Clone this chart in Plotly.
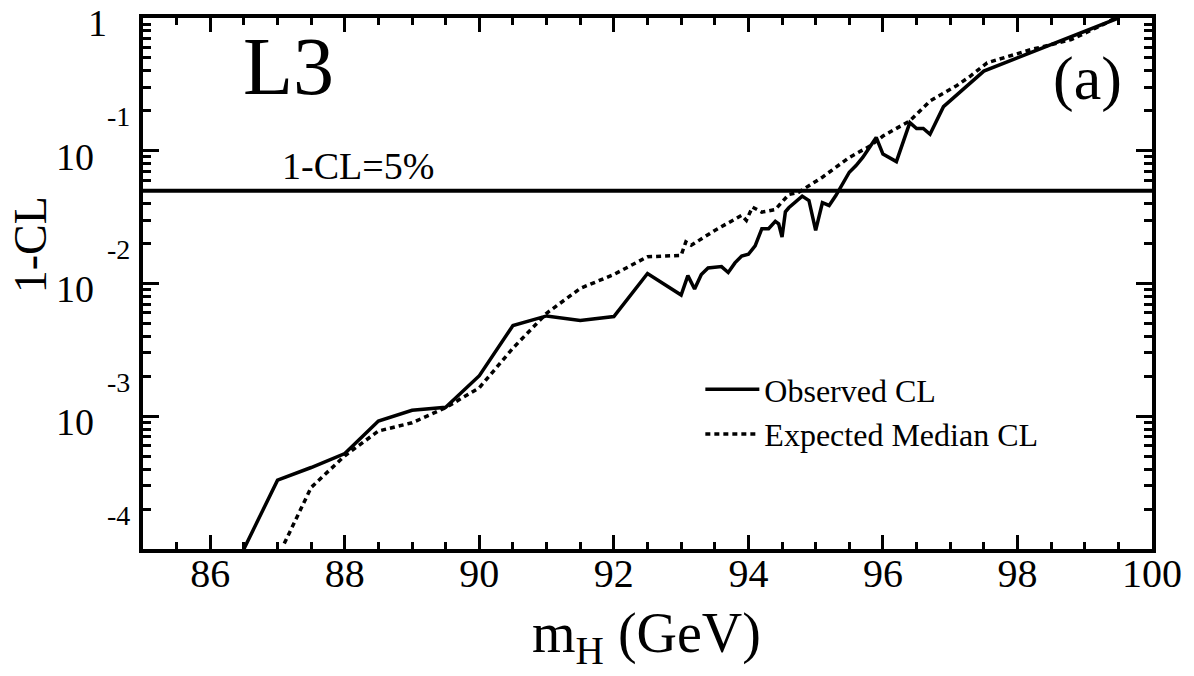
import math
import plotly.graph_objects as go

# ---------------- data ----------------
obs_mass = [86.5, 87.0, 87.5, 88.0, 88.5, 89.0, 89.5, 90.0, 90.5, 91.0, 91.5, 92.0,
            92.5, 93.0, 93.1, 93.2, 93.3, 93.4, 93.6, 93.7, 93.8, 93.9, 94.0, 94.1,
            94.2, 94.3, 94.4, 94.45, 94.5, 94.55, 94.6, 94.8, 94.9, 95.0, 95.1, 95.2,
            95.3, 95.5, 95.6, 95.7, 95.9, 96.0, 96.2, 96.4, 96.5, 96.6, 96.7, 96.9,
            97.5, 98.0, 99.0, 99.5]
obs_cl = [1.0e-4, 3.30e-4, 4.11e-4, 5.24e-4, 9.2e-4, 1.11e-3, 1.17e-3, 2.02e-3, 4.83e-3,
          5.70e-3, 5.26e-3, 5.64e-3, 1.19e-2, 8.18e-3, 1.146e-2, 9.08e-3, 1.17e-2, 1.31e-2,
          1.34e-2, 1.21e-2, 1.43e-2, 1.61e-2, 1.66e-2, 1.92e-2, 2.59e-2, 2.59e-2, 2.94e-2,
          2.82e-2, 2.24e-2, 3.47e-2, 3.72e-2, 4.55e-2, 4.22e-2, 2.51e-2, 4.06e-2, 3.87e-2,
          4.60e-2, 6.89e-2, 7.73e-2, 8.91e-2, 0.126, 0.0944, 0.0828, 0.163, 0.147, 0.147,
          0.133, 0.215, 0.398, 0.50, 0.79, 1.0]

exp_mass = [87.1, 87.5, 88.0, 88.5, 89.0, 89.5, 90.0, 90.5, 91.0, 91.5, 92.0, 92.5,
            93.0, 93.07, 93.15, 93.5, 93.9, 93.97, 94.06, 94.2, 94.4, 94.6, 94.75,
            95.1, 95.5, 95.8, 96.0, 96.4, 96.7, 97.1, 97.3, 97.55, 98.2, 98.8, 99.3, 99.45]
exp_cl = [1.1e-4, 2.91e-4, 5.04e-4, 7.74e-4, 8.93e-4, 1.16e-3, 1.64e-3, 3.26e-3, 5.97e-3,
          9.18e-3, 1.17e-2, 1.59e-2, 1.63e-2, 2.06e-2, 1.94e-2, 2.51e-2, 3.26e-2, 2.99e-2,
          3.76e-2, 3.45e-2, 3.61e-2, 4.68e-2, 4.88e-2, 6.32e-2, 8.9e-2, 0.108, 0.129,
          0.168, 0.237, 0.31, 0.365, 0.46, 0.578, 0.687, 0.906, 1.0]

limit_mass = [85, 100]
limit_cl = [0.05, 0.05]

x_tick_vals = [86, 88, 90, 92, 94, 96, 98, 100]
x_tick_text = ["86", "88", "90", "92", "94", "96", "98", "100"]
y_tick_vals = [1, 0.1, 0.01, 0.001, 0.0001]
y_tick_base = ["1", "10", "10", "10", "10"]
y_tick_exp = ["", "-1", "-2", "-3", "-4"]

# ---------------- layout geometry ----------------
W, H = 1194, 676
L, R, T, B = 143, 1155, 18, 549
FONT = "Liberation Serif, Times New Roman, serif"


def px(xp):
    return (xp - L) / (R - L)


def py(yp):
    return 1 - (yp - T) / (B - T)


fig = go.Figure()
fig.add_trace(go.Scatter(x=limit_mass, y=limit_cl, mode="lines",
                         line=dict(color="black", width=4), showlegend=False,
                         hoverinfo="skip"))
fig.add_trace(go.Scatter(x=obs_mass, y=obs_cl, mode="lines", name="Observed CL",
                         line=dict(color="black", width=3.5)))
fig.add_trace(go.Scatter(x=exp_mass, y=exp_cl, mode="lines", name="Expected Median CL",
                         line=dict(color="black", width=3.5, dash="5px,4px")))

minor_y = [m * 10 ** e for e in range(-4, 0) for m in range(2, 10)]

fig.update_xaxes(range=[85, 100], showline=True, linewidth=4, linecolor="black",
                 mirror="allticks", ticks="inside", ticklen=14, tickwidth=2.5,
                 tickcolor="black", tickvals=x_tick_vals, ticktext=x_tick_text,
                 tickfont=dict(family=FONT, size=40, color="black"),
                 ticklabelstandoff=-14,
                 showgrid=False, zeroline=False,
                 minor=dict(ticks="inside", ticklen=7, tickwidth=2.5, tickcolor="black",
                            dtick=0.5, tick0=85, showgrid=False))
fig.update_yaxes(type="log", range=[-4, 0], showline=True, linewidth=4, linecolor="black",
                 mirror="allticks", ticks="inside", ticklen=16, tickwidth=2.5,
                 tickcolor="black", tickvals=y_tick_vals, showticklabels=False,
                 showgrid=False, zeroline=False,
                 minor=dict(ticks="inside", ticklen=8, tickwidth=2.5, tickcolor="black",
                            tickvals=minor_y, showgrid=False))

ann = []
# y tick labels (base and raised exponent)
for v, b, e in zip(y_tick_vals, y_tick_base, y_tick_exp):
    lv = math.log10(v)
    if e == "":
        ann.append(dict(xref="paper", yref="paper", x=px(97), y=py(0), text=b,
                        showarrow=False, xanchor="center", yanchor="top",
                        font=dict(family=FONT, size=38, color="black")))
    else:
        ann.append(dict(xref="paper", yref="y", x=px(75), y=lv - 0.045, text=b,
                        showarrow=False, xanchor="center", yanchor="middle",
                        font=dict(family=FONT, size=38, color="black")))
        ann.append(dict(xref="paper", yref="y", x=px(118), y=lv + 0.255, text=e,
                        showarrow=False, xanchor="center", yanchor="middle",
                        font=dict(family=FONT, size=28, color="black")))

ann += [
    dict(xref="paper", yref="paper", x=px(30), y=py(245), text="1-CL", textangle=-90,
         showarrow=False, xanchor="center", yanchor="middle",
         font=dict(family=FONT, size=46, color="black")),
    dict(xref="paper", yref="paper", x=px(648), y=py(637), text="m<sub>H</sub> (GeV)",
         showarrow=False, xanchor="center", yanchor="middle",
         font=dict(family=FONT, size=56, color="black")),
    dict(xref="paper", yref="paper", x=px(241), y=py(67), text="L3", showarrow=False,
         xanchor="left", yanchor="middle", font=dict(family=FONT, size=82, color="black")),
    dict(xref="paper", yref="paper", x=px(1090), y=py(79), text="(a)", showarrow=False,
         xanchor="center", yanchor="middle", font=dict(family=FONT, size=62, color="black")),
    dict(xref="paper", yref="paper", x=px(280), y=py(166), text="1-CL=5%", showarrow=False,
         xanchor="left", yanchor="middle", font=dict(family=FONT, size=38, color="black")),
]

fig.update_layout(
    width=W, height=H,
    margin=dict(l=L, r=W - R, t=T, b=H - B, pad=0),
    plot_bgcolor="white", paper_bgcolor="white",
    font=dict(family=FONT, color="black"),
    annotations=ann,
    legend=dict(x=px(702), y=py(362), xanchor="left", yanchor="top",
                bgcolor="rgba(0,0,0,0)", borderwidth=0, itemwidth=54,
                font=dict(family=FONT, size=32, color="black"), tracegroupgap=0),
)

fig.write_html("out.html", config={"displayModeBar": False},
               post_script="document.body.style.margin='0';document.body.style.overflow='hidden';")
